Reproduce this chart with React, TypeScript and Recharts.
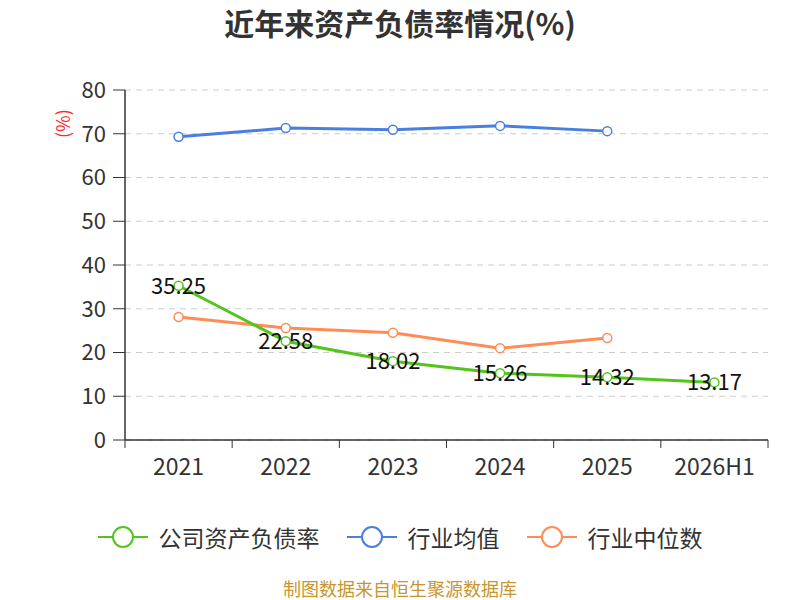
import React from 'react';
import { LineChart, Line, XAxis, YAxis, CartesianGrid, LabelList } from 'recharts';

// Data
const categories = ['2021', '2022', '2023', '2024', '2025', '2026H1'];
const companyRatio = [35.25, 22.58, 18.02, 15.26, 14.32, 13.17];
const industryAvg = [69.3, 71.3, 70.9, 71.8, 70.6, null];
const industryMedian = [28.1, 25.6, 24.5, 21.0, 23.3, null];
const yTicks = [0, 10, 20, 30, 40, 50, 60, 70, 80];

const chartData = categories.map((name, i) => ({
  name,
  company: companyRatio[i],
  avg: industryAvg[i],
  median: industryMedian[i],
}));

const FONT = '"Noto Sans CJK SC", "Noto Sans", sans-serif';
const WIDTH = 800;
const HEIGHT = 600;
const PLOT_LEFT = 125;
const PLOT_RIGHT = 768;
const BAND = (PLOT_RIGHT - PLOT_LEFT) / categories.length;

const GREEN = '#52c41a';
const BLUE = '#4a7fe0';
const ORANGE = '#ff8c55';

function XTick(props: any) {
  const { x, y, payload, index } = props;
  return (
    <g>
      <line x1={x - BAND / 2} x2={x - BAND / 2} y1={y} y2={y + 8} stroke="#333" />
      {index === categories.length - 1 && (
        <line x1={x + BAND / 2} x2={x + BAND / 2} y1={y} y2={y + 8} stroke="#333" />
      )}
      <text x={x} y={y + 35} textAnchor="middle" fontSize={23} fill="#333" fontFamily={FONT}>
        {payload.value}
      </text>
    </g>
  );
}

function ValueLabel(props: any) {
  const { x, y, value } = props;
  if (value == null) return null;
  return (
    <text x={x} y={y + 8} textAnchor="middle" fontSize={22} fill="#111" fontFamily={FONT}>
      {value.toFixed(2)}
    </text>
  );
}

const legendItems = [
  { label: '公司资产负债率', color: GREEN },
  { label: '行业均值', color: BLUE },
  { label: '行业中位数', color: ORANGE },
];

function LegendIcon({ color }: { color: string }) {
  return (
    <svg width={50} height={24}>
      <line x1={0} x2={50} y1={12} y2={12} stroke={color} strokeWidth={2} />
      <circle cx={25} cy={12} r={10} fill="#fff" stroke={color} strokeWidth={2} />
    </svg>
  );
}

export default function App() {
  return (
    <div
      style={{
        position: 'absolute',
        left: 0,
        top: 0,
        width: WIDTH,
        height: HEIGHT,
        background: '#fff',
        fontFamily: FONT,
        overflow: 'hidden',
      }}
    >
      {/* Title */}
      <div
        style={{
          position: 'absolute',
          top: 2,
          left: 0,
          width: WIDTH,
          textAlign: 'center',
          fontSize: 30,
          fontWeight: 'bold',
          color: '#333',
          lineHeight: '40px',
        }}
      >
        近年来资产负债率情况(%)
      </div>

      {/* Y unit */}
      <div
        style={{
          position: 'absolute',
          left: 50,
          top: 114,
          width: 24,
          height: 24,
          fontSize: 18,
          color: '#ff2a2a',
          lineHeight: '24px',
          textAlign: 'center',
          transform: 'rotate(-90deg)',
          whiteSpace: 'nowrap',
        }}
      >
        (%)
      </div>

      <LineChart
        width={WIDTH}
        height={HEIGHT}
        data={chartData}
        margin={{ top: 90, right: WIDTH - PLOT_RIGHT, bottom: 120, left: PLOT_LEFT - 60 }}
      >
        <CartesianGrid vertical={false} stroke="#ccc" strokeDasharray="6 5" />
        <XAxis
          dataKey="name"
          height={40}
          padding={{ left: BAND / 2, right: BAND / 2 }}
          tickSize={0}
          tickMargin={0}
          tickLine={false}
          tick={<XTick />}
          interval={0}
          axisLine={{ stroke: '#333', strokeWidth: 1.5 }}
        />
        <YAxis
          width={60}
          domain={[0, 80]}
          ticks={yTicks}
          interval={0}
          tickSize={12}
          tickMargin={7}
          tick={{ fontSize: 22, fill: '#333', fontFamily: FONT }}
          tickLine={{ stroke: '#333' }}
          axisLine={{ stroke: '#333', strokeWidth: 1.5 }}
        />
        <Line
          dataKey="median"
          stroke={ORANGE}
          strokeWidth={3}
          dot={{ r: 4.5, fill: '#fff', stroke: ORANGE, strokeWidth: 1.5 }}
          isAnimationActive={false}
        />
        <Line
          dataKey="avg"
          stroke={BLUE}
          strokeWidth={3}
          dot={{ r: 4.5, fill: '#fff', stroke: BLUE, strokeWidth: 1.5 }}
          isAnimationActive={false}
        />
        <Line
          dataKey="company"
          stroke={GREEN}
          strokeWidth={3}
          dot={{ r: 4.5, fill: '#fff', stroke: GREEN, strokeWidth: 1.5 }}
          isAnimationActive={false}
        >
          <LabelList dataKey="company" content={<ValueLabel />} />
        </Line>
      </LineChart>

      {/* Legend */}
      <div
        style={{
          position: 'absolute',
          top: 523,
          left: 0,
          width: WIDTH,
          display: 'flex',
          justifyContent: 'center',
          alignItems: 'center',
          gap: 27,
        }}
      >
        {legendItems.map((item) => (
          <div key={item.label} style={{ display: 'flex', alignItems: 'center', gap: 11 }}>
            <LegendIcon color={item.color} />
            <span style={{ fontSize: 23, color: '#333', lineHeight: '28px' }}>{item.label}</span>
          </div>
        ))}
      </div>

      {/* Source */}
      <div
        style={{
          position: 'absolute',
          top: 578,
          left: 0,
          width: WIDTH,
          textAlign: 'center',
          fontSize: 18,
          color: '#c8952e',
          lineHeight: '20px',
        }}
      >
        制图数据来自恒生聚源数据库
      </div>
    </div>
  );
}
